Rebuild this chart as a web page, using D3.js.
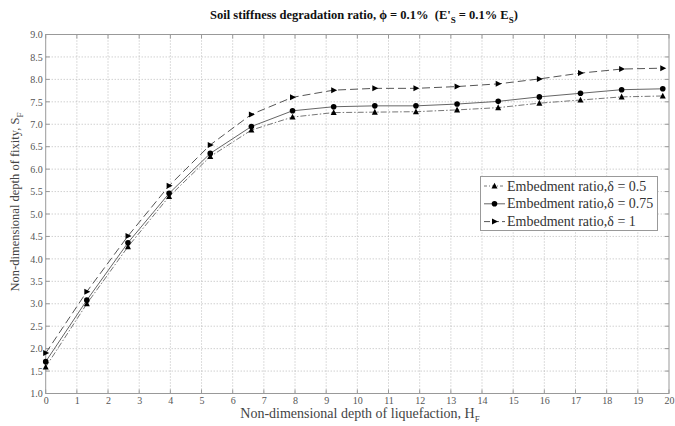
<!DOCTYPE html>
<html>
<head>
<meta charset="utf-8">
<script src="https://cdn.jsdelivr.net/npm/d3@7"></script>
<style>
body{margin:0;background:#fff;}
svg{display:block;}
</style>
</head>
<body>
<svg id="chart" width="675" height="426"></svg>
<script>
const hf = [0, 1.32, 2.64, 3.96, 5.28, 6.6, 7.92, 9.24, 10.56, 11.88, 13.2, 14.52, 15.84, 17.16, 18.48, 19.8];
const sf05 = [1.59, 3.00, 4.27, 5.39, 6.28, 6.87, 7.16, 7.26, 7.27, 7.28, 7.32, 7.37, 7.47, 7.54, 7.61, 7.63];
const sf075 = [1.71, 3.08, 4.36, 5.46, 6.35, 6.95, 7.30, 7.39, 7.41, 7.41, 7.45, 7.51, 7.61, 7.69, 7.77, 7.79];
const sf1 = [1.90, 3.27, 4.51, 5.63, 6.54, 7.22, 7.60, 7.76, 7.80, 7.80, 7.84, 7.90, 8.01, 8.14, 8.23, 8.25];
const seriesNames = ["Embedment ratio,\u03b4 = 0.5", "Embedment ratio,\u03b4 = 0.75", "Embedment ratio,\u03b4 = 1"];
const xTicks = d3.range(0, 21, 1);
const yTicks = d3.range(1, 9.01, 0.5);

const svg = d3.select("#chart");
const L = 45.7, R = 669, T = 34.5, B = 393.5;
const x = d3.scaleLinear().domain([0, 20]).range([L, R]);
const y = d3.scaleLinear().domain([1, 9]).range([B, T]);
const serif = "'Liberation Serif', 'DejaVu Serif', serif";

// grid
const g = svg.append("g");
g.selectAll(".vg").data(xTicks.slice(1, -1)).enter().append("line")
  .attr("x1", d => x(d)).attr("x2", d => x(d)).attr("y1", T).attr("y2", B)
  .attr("stroke", "#aaa").attr("stroke-width", 0.8).attr("stroke-dasharray", "1,2");
g.selectAll(".hg").data(yTicks.slice(1, -1)).enter().append("line")
  .attr("y1", d => y(d)).attr("y2", d => y(d)).attr("x1", L).attr("x2", R)
  .attr("stroke", "#aaa").attr("stroke-width", 0.8).attr("stroke-dasharray", "1,2");

// axes
const xAxis = d3.axisBottom(x).tickValues(xTicks).tickFormat(d3.format("d")).tickSize(0).tickPadding(3);
const yAxis = d3.axisLeft(y).tickValues(yTicks).tickFormat(d3.format(".1f")).tickSize(0).tickPadding(3);
const xa = svg.append("g").attr("transform", `translate(0,${B})`).call(xAxis);
const ya = svg.append("g").attr("transform", `translate(${L},0)`).call(yAxis);
[xa, ya].forEach(a => {
  a.select(".domain").remove();
  a.selectAll("text").attr("font-family", serif).attr("font-size", 10).attr("fill", "#555");
});
// small inward ticks
svg.append("g").selectAll("line").data(xTicks).enter().append("line")
  .attr("x1", d => x(d)).attr("x2", d => x(d)).attr("y1", B).attr("y2", B - 4).attr("stroke", "#999");
svg.append("g").selectAll("line").data(xTicks).enter().append("line")
  .attr("x1", d => x(d)).attr("x2", d => x(d)).attr("y1", T).attr("y2", T + 4).attr("stroke", "#999");
svg.append("g").selectAll("line").data(yTicks).enter().append("line")
  .attr("y1", d => y(d)).attr("y2", d => y(d)).attr("x1", L).attr("x2", L + 4).attr("stroke", "#999");
svg.append("g").selectAll("line").data(yTicks).enter().append("line")
  .attr("y1", d => y(d)).attr("y2", d => y(d)).attr("x1", R).attr("x2", R - 4).attr("stroke", "#999");
svg.append("rect").attr("x", L).attr("y", T).attr("width", R - L).attr("height", B - T)
  .attr("fill", "none").attr("stroke", "#999").attr("stroke-width", 1);

// series
const series = [
  {name: seriesNames[0], vals: sf05, dash: "6,2,1.5,2", color: "#777", marker: "up"},
  {name: seriesNames[1], vals: sf075, dash: null, color: "#666", marker: "circle"},
  {name: seriesNames[2], vals: sf1, dash: "8,4", color: "#555", marker: "right"}
];
const line = d3.line().x(d => x(d[0])).y(d => y(d[1]));
function drawMarker(sel, type, cx, cy) {
  if (type === "circle") {
    sel.append("circle").attr("cx", cx).attr("cy", cy).attr("r", 2.8).attr("fill", "#000");
  } else if (type === "up") {
    sel.append("path").attr("d", `M${cx},${cy - 3.3}L${cx + 3},${cy + 2.5}L${cx - 3},${cy + 2.5}Z`).attr("fill", "#000");
  } else {
    sel.append("path").attr("d", `M${cx + 3.5},${cy}L${cx - 2.5},${cy - 3}L${cx - 2.5},${cy + 3}Z`).attr("fill", "#000");
  }
}
series.forEach(s => {
  const pts = hf.map((h, i) => [h, s.vals[i]]);
  const p = svg.append("path").attr("d", line(pts)).attr("fill", "none")
    .attr("stroke", s.color).attr("stroke-width", 1);
  if (s.dash) p.attr("stroke-dasharray", s.dash);
  const mg = svg.append("g");
  pts.forEach(d => drawMarker(mg, s.marker, x(d[0]), y(d[1])));
});

// legend
const lg = svg.append("g");
lg.append("rect").attr("x", 480.5).attr("y", 176.5).attr("width", 177).attr("height", 54)
  .attr("fill", "#fff").attr("stroke", "#999").attr("stroke-width", 1);
series.forEach((s, i) => {
  const cy = 186 + i * 17.8;
  const l = lg.append("line").attr("x1", 484).attr("x2", 505).attr("y1", cy).attr("y2", cy)
    .attr("stroke", s.color).attr("stroke-width", 1);
  if (s.dash) l.attr("stroke-dasharray", i === 0 ? "3,2,1,2" : "6,3");
  drawMarker(lg, s.marker, 494.5, cy);
  lg.append("text").attr("x", 507).attr("y", cy + 4.5).text(s.name)
    .attr("font-family", serif).attr("font-size", 14).attr("fill", "#333");
});

// title
const title = svg.append("text").attr("x", 364).attr("y", 19).attr("text-anchor", "middle")
  .attr("font-family", serif).attr("font-size", 12.5).attr("font-weight", "bold").attr("fill", "#111");
title.append("tspan").text("Soil stiffness degradation ratio, \u03d5 = 0.1% \u00a0(E'");
title.append("tspan").attr("font-size", 9).attr("dy", 4).text("S");
title.append("tspan").attr("dy", -4).text(" = 0.1% E");
title.append("tspan").attr("font-size", 9).attr("dy", 4).text("S");
title.append("tspan").attr("dy", -4).text(")");

// axis labels
const xl = svg.append("text").attr("x", 360).attr("y", 418).attr("text-anchor", "middle")
  .attr("font-family", serif).attr("font-size", 14).attr("fill", "#444");
xl.append("tspan").text("Non-dimensional depth of liquefaction, H");
xl.append("tspan").attr("font-size", 9).attr("dy", 4).text("F");

const yl = svg.append("text").attr("transform", "translate(19,202) rotate(-90)").attr("text-anchor", "middle")
  .attr("font-family", serif).attr("font-size", 12.5).attr("fill", "#444");
yl.append("tspan").text("Non-dimensional depth of fixity, S");
yl.append("tspan").attr("font-size", 9).attr("dy", 4).text("F");
</script>
</body>
</html>
